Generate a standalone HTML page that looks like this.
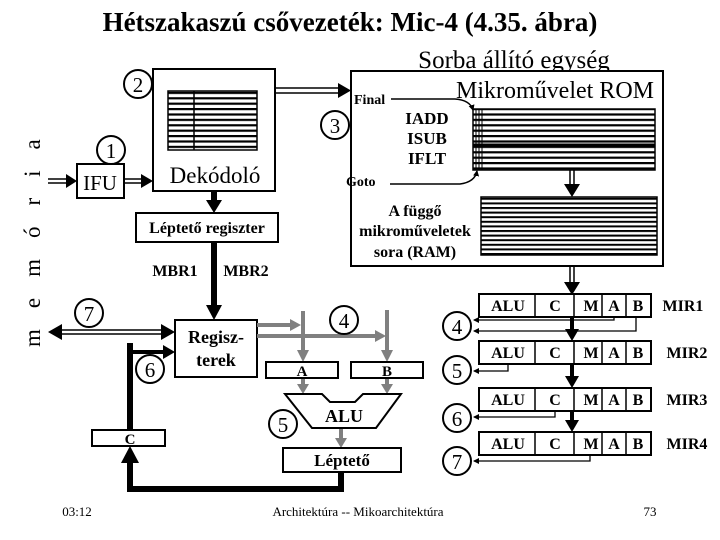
<!DOCTYPE html>
<html><head><meta charset="utf-8"><style>
html,body{margin:0;padding:0;background:#fff;}
svg{display:block;}
text{font-family:"Liberation Serif",serif;}
.b{font-weight:bold;}
</style></head><body>
<svg width="720" height="540" viewBox="0 0 720 540" xmlns="http://www.w3.org/2000/svg">
<defs>
<pattern id="h5" width="10" height="5.4" patternUnits="userSpaceOnUse"><rect width="10" height="2.2" fill="#000"/></pattern>
<pattern id="h4" width="10" height="4.6" patternUnits="userSpaceOnUse"><rect width="10" height="2" fill="#000"/></pattern>
<marker id="sh" markerWidth="6" markerHeight="6" refX="5" refY="3" orient="auto" markerUnits="userSpaceOnUse"><path d="M0,0 L6,3 L0,6z" fill="#000"/></marker>
</defs>
<rect width="720" height="540" fill="#fff"/>
<text x="350" y="31" text-anchor="middle" class="b" font-size="27">Hétszakaszú csővezeték: Mic-4 (4.35. ábra)</text>

<text transform="translate(40,347) rotate(-90)" font-size="23" letter-spacing="21">memória</text>

<rect x="77" y="164" width="47" height="34" fill="#fff" stroke="#000" stroke-width="2"/>
<text x="100" y="190" text-anchor="middle" font-size="21">IFU</text>
<line x1="48" y1="179" x2="68" y2="179" stroke="#000" stroke-width="1.5"/><line x1="48" y1="183" x2="68" y2="183" stroke="#000" stroke-width="1.5"/>
<path d="M66,174 L77,181 L66,188z"/>
<line x1="124" y1="179" x2="143" y2="179" stroke="#000" stroke-width="1.5"/><line x1="124" y1="183" x2="143" y2="183" stroke="#000" stroke-width="1.5"/>
<path d="M141,174 L153,181 L141,188z"/>
<circle cx="111" cy="150" r="14" fill="#fff" stroke="#000" stroke-width="2"/><text x="111" y="158" text-anchor="middle" font-size="21">1</text>

<rect x="153" y="69" width="122" height="122" fill="#fff" stroke="#000" stroke-width="2"/>
<rect x="168" y="91" width="89" height="59" fill="url(#h5)"/>
<rect x="168" y="91" width="89" height="59" fill="none" stroke="#000" stroke-width="1.5"/>
<line x1="194" y1="91" x2="194" y2="150" stroke="#000" stroke-width="1.5"/>
<text x="215" y="183" text-anchor="middle" font-size="23">Dekódoló</text>
<circle cx="138" cy="84" r="14" fill="#fff" stroke="#000" stroke-width="2"/><text x="138" y="92" text-anchor="middle" font-size="21">2</text>
<line x1="275" y1="88" x2="342" y2="88" stroke="#000" stroke-width="1.5"/><line x1="275" y1="93" x2="342" y2="93" stroke="#000" stroke-width="1.5"/>
<path d="M338,83 L351,90.5 L338,98z"/>
<line x1="214" y1="191" x2="214" y2="202" stroke="#000" stroke-width="6"/>
<path d="M206,200 L222,200 L214,213z"/>

<rect x="136" y="213" width="142" height="29" fill="#fff" stroke="#000" stroke-width="2"/>
<text x="207" y="233" text-anchor="middle" class="b" font-size="16">Léptető regiszter</text>
<line x1="214" y1="242" x2="214" y2="306" stroke="#000" stroke-width="6"/>
<path d="M206,305 L222,305 L214,320z"/>
<text x="175" y="276" text-anchor="middle" class="b" font-size="16">MBR1</text>
<text x="246" y="276" text-anchor="middle" class="b" font-size="16">MBR2</text>

<text x="514" y="68" text-anchor="middle" font-size="25">Sorba állító egység</text>
<rect x="351" y="71" width="312" height="195" fill="#fff" stroke="#000" stroke-width="2"/>
<text x="555" y="98" text-anchor="middle" font-size="24">Mikroművelet ROM</text>
<circle cx="335" cy="125" r="14" fill="#fff" stroke="#000" stroke-width="2"/><text x="335" y="133" text-anchor="middle" font-size="21">3</text>
<rect x="473" y="109" width="182" height="61" fill="url(#h5)"/>
<rect x="473" y="109" width="182" height="61" fill="none" stroke="#000" stroke-width="1.5"/>
<g stroke="#000" stroke-width="1"><line x1="476" y1="109" x2="476" y2="170"/><line x1="479" y1="109" x2="479" y2="170"/><line x1="482" y1="109" x2="482" y2="170"/></g>
<line x1="473" y1="145" x2="655" y2="145" stroke="#000" stroke-width="3"/>
<text x="354" y="104" class="b" font-size="14">Final</text>
<path d="M391,99 L455,99 Q470,100 473,110" fill="none" stroke="#000" stroke-width="1.5" marker-end="url(#sh)"/>
<text x="346" y="186" class="b" font-size="14">Goto</text>
<path d="M390,184 L460,184 Q475,182 477,171" fill="none" stroke="#000" stroke-width="1.5" marker-end="url(#sh)"/>
<text x="427" y="124" text-anchor="middle" class="b" font-size="17">IADD</text>
<text x="427" y="144" text-anchor="middle" class="b" font-size="17">ISUB</text>
<text x="427" y="164" text-anchor="middle" class="b" font-size="17">IFLT</text>
<line x1="570" y1="170" x2="570" y2="185" stroke="#000" stroke-width="1.5"/><line x1="574" y1="170" x2="574" y2="185" stroke="#000" stroke-width="1.5"/>
<path d="M564,184 L580,184 L572,197z"/>
<rect x="481" y="197" width="176" height="58" fill="url(#h4)"/>
<rect x="481" y="197" width="176" height="58" fill="none" stroke="#000" stroke-width="1.5"/>
<text x="415" y="216" text-anchor="middle" class="b" font-size="16">A függő</text>
<text x="415" y="236" text-anchor="middle" class="b" font-size="16">mikroműveletek</text>
<text x="415" y="257" text-anchor="middle" class="b" font-size="16">sora (RAM)</text>
<line x1="570" y1="266" x2="570" y2="283" stroke="#000" stroke-width="1.5"/><line x1="574" y1="266" x2="574" y2="283" stroke="#000" stroke-width="1.5"/>
<path d="M564,282 L580,282 L572,295z"/>

<g font-size="16" class="b" text-anchor="middle">
<g id="m1">
<rect x="479" y="294" width="172" height="23" fill="#fff" stroke="#000" stroke-width="2"/>
<g stroke="#000" stroke-width="1.5"><line x1="535" y1="294" x2="535" y2="317"/><line x1="574" y1="294" x2="574" y2="317"/><line x1="602" y1="294" x2="602" y2="317"/><line x1="626" y1="294" x2="626" y2="317"/></g>
</g>
<text x="508" y="311">ALU</text><text x="555" y="311">C</text><text x="591" y="311">M</text><text x="614" y="311">A</text><text x="638" y="311">B</text><text x="683" y="311">MIR1</text>
<use href="#m1" y="47"/>
<text x="508" y="358">ALU</text><text x="555" y="358">C</text><text x="591" y="358">M</text><text x="614" y="358">A</text><text x="638" y="358">B</text><text x="687" y="358">MIR2</text>
<use href="#m1" y="94"/>
<text x="508" y="405">ALU</text><text x="555" y="405">C</text><text x="591" y="405">M</text><text x="614" y="405">A</text><text x="638" y="405">B</text><text x="687" y="405">MIR3</text>
<use href="#m1" y="138"/>
<text x="508" y="449">ALU</text><text x="555" y="449">C</text><text x="591" y="449">M</text><text x="614" y="449">A</text><text x="638" y="449">B</text><text x="687" y="449">MIR4</text>
</g>
<g>
<line x1="572" y1="317" x2="572" y2="330" stroke="#000" stroke-width="4"/><path d="M565,329 L579,329 L572,341z"/>
<line x1="572" y1="364" x2="572" y2="377" stroke="#000" stroke-width="4"/><path d="M565,376 L579,376 L572,388z"/>
<line x1="572" y1="411" x2="572" y2="421" stroke="#000" stroke-width="4"/><path d="M565,420 L579,420 L572,432z"/>
</g>
<g fill="none" stroke="#000" stroke-width="1.3">
<path d="M614,317 V320 H474" marker-end="url(#sh)"/>
<path d="M636,317 V331 H474" marker-end="url(#sh)"/>
<path d="M508,364 V371 H474" marker-end="url(#sh)"/>
<path d="M555,411 V417 H474" marker-end="url(#sh)"/>
<path d="M590,455 V461 H474" marker-end="url(#sh)"/>
</g>
<g font-size="21" text-anchor="middle">
<circle cx="457" cy="326" r="14" fill="#fff" stroke="#000" stroke-width="2"/><text x="457" y="334">4</text>
<circle cx="457" cy="370" r="14" fill="#fff" stroke="#000" stroke-width="2"/><text x="457" y="378">5</text>
<circle cx="457" cy="418" r="14" fill="#fff" stroke="#000" stroke-width="2"/><text x="457" y="426">6</text>
<circle cx="457" cy="461" r="14" fill="#fff" stroke="#000" stroke-width="2"/><text x="457" y="469">7</text>
</g>

<rect x="175" y="320" width="82" height="57" fill="#fff" stroke="#000" stroke-width="2"/>
<text x="216" y="343" text-anchor="middle" class="b" font-size="18">Regisz-</text>
<text x="216" y="366" text-anchor="middle" class="b" font-size="18">terek</text>
<line x1="58" y1="330" x2="163" y2="330" stroke="#000" stroke-width="1.5"/><line x1="58" y1="334" x2="163" y2="334" stroke="#000" stroke-width="1.5"/>
<path d="M48,332 L62,324 L62,340z"/><path d="M175,332 L161,324 L161,340z"/>
<circle cx="89" cy="313" r="14" fill="#fff" stroke="#000" stroke-width="2"/><text x="89" y="321" text-anchor="middle" font-size="21">7</text>
<line x1="130" y1="343" x2="130" y2="431" stroke="#000" stroke-width="6"/>
<line x1="130" y1="352" x2="165" y2="352" stroke="#000" stroke-width="4"/><path d="M163,345 L175,352 L163,359z"/>
<circle cx="150" cy="369" r="14" fill="#fff" stroke="#000" stroke-width="2"/><text x="150" y="377" text-anchor="middle" font-size="21">6</text>
<rect x="92" y="430" width="73" height="16" fill="#fff" stroke="#000" stroke-width="2"/>
<text x="130" y="444" text-anchor="middle" class="b" font-size="15">C</text>
<path d="M341,472 V489 H130 V460" fill="none" stroke="#000" stroke-width="6"/>
<path d="M121,463 L139,463 L130,446z"/>
<g stroke="#808080" stroke-width="4" fill="none">
<line x1="257" y1="325" x2="292" y2="325"/><line x1="257" y1="336" x2="377" y2="336"/>
<line x1="303" y1="311" x2="303" y2="352"/><line x1="387" y1="310" x2="387" y2="352"/>
<line x1="303" y1="378" x2="303" y2="386"/><line x1="387" y1="378" x2="387" y2="386"/>
<line x1="341" y1="428" x2="341" y2="440"/>
</g>
<g fill="#808080">
<path d="M290,319 L301,325 L290,331z"/><path d="M375,330 L386,336 L375,342z"/>
<path d="M297,350 L309,350 L303,362z"/><path d="M381,350 L393,350 L387,362z"/>
<path d="M297,384 L309,384 L303,394z"/><path d="M381,384 L393,384 L387,394z"/>
<path d="M335,438 L347,438 L341,448z"/>
</g>
<rect x="266" y="362" width="72" height="16" fill="#fff" stroke="#000" stroke-width="2"/>
<text x="302" y="376" text-anchor="middle" class="b" font-size="15">A</text>
<rect x="351" y="362" width="72" height="16" fill="#fff" stroke="#000" stroke-width="2"/>
<text x="387" y="376" text-anchor="middle" class="b" font-size="15">B</text>
<path d="M285,394 L322,394 L330,402 L355,402 L363,394 L401,394 L376,428 L312,428z" fill="#fff" stroke="#000" stroke-width="2"/>
<text x="344" y="422" text-anchor="middle" class="b" font-size="18">ALU</text>
<circle cx="344" cy="320" r="14" fill="#fff" stroke="#000" stroke-width="2"/><text x="344" y="328" text-anchor="middle" font-size="21">4</text>
<circle cx="283" cy="424" r="14" fill="#fff" stroke="#000" stroke-width="2"/><text x="283" y="432" text-anchor="middle" font-size="21">5</text>
<rect x="283" y="448" width="118" height="24" fill="#fff" stroke="#000" stroke-width="2"/>
<text x="342" y="466" text-anchor="middle" class="b" font-size="17">Léptető</text>

<text x="77" y="516" text-anchor="middle" font-size="13">03:12</text>
<text x="358" y="516" text-anchor="middle" font-size="13">Architektúra -- Mikoarchitektúra</text>
<text x="650" y="516" text-anchor="middle" font-size="13">73</text>
</svg>
</body></html>
